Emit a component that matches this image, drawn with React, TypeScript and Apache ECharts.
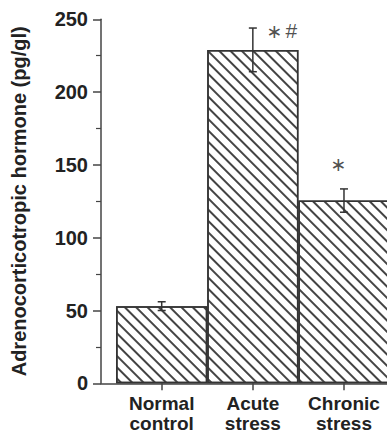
import React, { useEffect, useRef } from "react";
import * as echarts from "echarts";

const categories = ["Normal\ncontrol", "Acute\nstress", "Chronic\nstress"];
const positions = [1, 2, 3];
const means = [53, 229, 125.5];
const errors = [3, 15, 8];
const yTicks = [0, 50, 100, 150, 200, 250];
const marks = ["", "{a|∗}{b|#}", "{a|∗}"];
const markValues = [0, 242, 150.5];
const markOffsets = [0, 29, -4];

const AXIS = "#444";
const TEXT = "#222";

export default function App() {
  const ref = useRef<HTMLDivElement>(null);
  useEffect(() => {
    if (!ref.current) return;
    const chart = echarts.init(ref.current, null, { renderer: "svg" });
    const barData = positions.map((p, i) => [p, means[i]]);
    const errData = positions.map((p, i) => [p, means[i], errors[i]]);
    const markData = positions
      .map((p, i) => ({ value: [p, markValues[i]], text: marks[i], off: markOffsets[i] }))
      .filter((d) => d.text !== "");
    chart.setOption({
      animation: false,
      backgroundColor: "#fff",
      grid: { left: 101, top: 19.3, right: 0, height: 364 },
      xAxis: {
        type: "value",
        min: 0.334,
        max: 3.472,
        axisLine: { show: true, onZero: false, lineStyle: { color: AXIS, width: 1.5 } },
        axisTick: {
          show: true,
          customValues: positions,
          length: 7,
          inside: false,
          lineStyle: { color: AXIS, width: 1.5 },
        },
        axisLabel: {
          customValues: positions,
          formatter: (v: number) => categories[Math.round(v) - 1] ?? "",
          fontFamily: "Liberation Sans, Arial, sans-serif",
          fontWeight: "bold",
          fontSize: 19,
          lineHeight: 20,
          color: TEXT,
          margin: 10,
        },
        splitLine: { show: false },
      },
      yAxis: {
        type: "value",
        min: yTicks[0],
        max: yTicks[yTicks.length - 1],
        interval: 50,
        name: "Adrenocorticotropic hormone (pg/gl)",
        nameLocation: "middle",
        nameGap: 72,
        nameTextStyle: {
          fontFamily: "Liberation Sans, Arial, sans-serif",
          fontWeight: "bold",
          fontSize: 20,
          color: TEXT,
        },
        axisLine: { show: true, lineStyle: { color: AXIS, width: 1.5 } },
        axisTick: { show: true, length: 8, inside: false, lineStyle: { color: AXIS, width: 1.5 } },
        minorTick: { show: true, splitNumber: 2, length: 5, lineStyle: { color: AXIS, width: 1.2 } },
        axisLabel: {
          fontFamily: "Liberation Sans, Arial, sans-serif",
          fontWeight: "bold",
          fontSize: 20,
          color: TEXT,
          margin: 13,
        },
        splitLine: { show: false },
      },
      series: [
        {
          type: "bar",
          data: barData,
          barWidth: 91.2,
          itemStyle: {
            color: "#fff",
            borderColor: "#333",
            borderWidth: 1.5,
            decal: {
              symbol: "rect",
              symbolSize: 1,
              color: "#444",
              dashArrayX: [1, 0],
              dashArrayY: [1.3, 5.4],
              rotation: Math.PI / 4,
            },
          },
          z: 2,
        },
        {
          type: "custom",
          data: errData,
          z: 5,
          renderItem: (params: any, api: any) => {
            const x = api.value(0);
            const m = api.value(1);
            const e = api.value(2);
            const top = api.coord([x, m + e]);
            const bot = api.coord([x, m - e]);
            const cap = 4;
            const style = { stroke: "#333", lineWidth: 1.5 };
            return {
              type: "group",
              children: [
                { type: "line", shape: { x1: top[0], y1: top[1], x2: bot[0], y2: bot[1] }, style },
                { type: "line", shape: { x1: top[0] - cap, y1: top[1], x2: top[0] + cap, y2: top[1] }, style },
                { type: "line", shape: { x1: bot[0] - cap, y1: bot[1], x2: bot[0] + cap, y2: bot[1] }, style },
              ],
            };
          },
        },
        {
          type: "scatter",
          data: markData.map((d) => ({
            value: d.value,
            label: { show: true, formatter: d.text, offset: [d.off, 0] },
          })),
          symbolSize: 0,
          z: 6,
          label: {
            show: true,
            position: "inside",
            color: "#222",
            rich: {
              a: { fontFamily: "DejaVu Sans, sans-serif", fontSize: 19, color: "#222", padding: [0, 3, 0, 0] },
              b: { fontFamily: "Liberation Sans, Arial, sans-serif", fontSize: 21, color: "#222" },
            },
          },
        },
      ],
    });
    return () => chart.dispose();
  }, []);
  return (
    <div
      ref={ref}
      style={{ width: 387, height: 435, position: "fixed", left: 0, top: 0 }}
    />
  );
}
